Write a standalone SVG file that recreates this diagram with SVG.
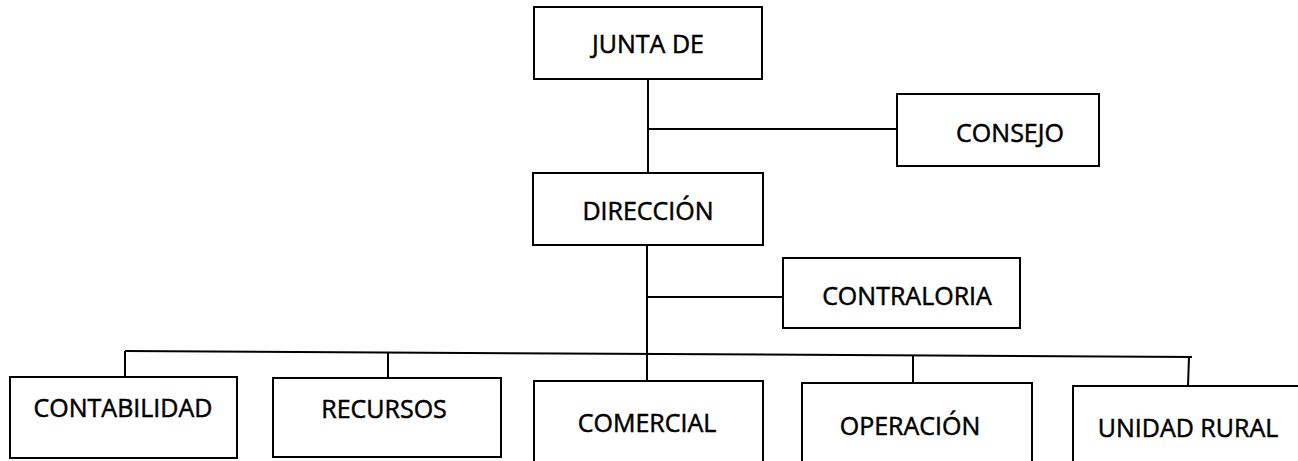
<svg xmlns="http://www.w3.org/2000/svg" width="1298" height="461" viewBox="0 0 1298 461">
<style>
.box{fill:#fff;stroke:#000;stroke-width:2}
.lbl{font-family:"Open Sans","Liberation Sans",sans-serif;font-size:25px;fill:#000;stroke:#000;stroke-width:0.5;text-anchor:middle}
.ln{stroke:#000;stroke-width:2;fill:none}
</style>
<rect width="1298" height="461" fill="#fff"/>
<g id="connectors">
<line class="ln" x1="648" y1="79" x2="648" y2="173"/>
<line class="ln" x1="648" y1="129" x2="897" y2="129"/>
<line class="ln" x1="647" y1="245" x2="647" y2="381"/>
<line class="ln" x1="647" y1="297" x2="783" y2="297"/>
<line class="ln" x1="125" y1="351" x2="1192" y2="357"/>
<line class="ln" x1="125" y1="351" x2="125" y2="377"/>
<line class="ln" x1="388" y1="352.5" x2="388" y2="378"/>
<line class="ln" x1="913" y1="355.5" x2="913" y2="383"/>
<line class="ln" x1="1189" y1="357" x2="1188" y2="386"/>
</g>
<g id="junta"><rect class="box" x="534" y="7" width="228" height="72"/><text class="lbl" x="648" y="53">JUNTA DE</text></g>
<g id="consejo"><rect class="box" x="897" y="94" width="202" height="72"/><text class="lbl" x="1010" y="142">CONSEJO</text></g>
<g id="direccion"><rect class="box" x="533" y="173" width="230" height="72"/><text class="lbl" x="648" y="220">DIRECCIÓN</text></g>
<g id="contraloria"><rect class="box" x="783" y="258" width="237" height="70"/><text class="lbl" x="907" y="305">CONTRALORIA</text></g>
<g id="contabilidad"><rect class="box" x="10" y="377" width="227" height="81"/><text class="lbl" x="123" y="417">CONTABILIDAD</text></g>
<g id="recursos"><rect class="box" x="273" y="378" width="228" height="79"/><text class="lbl" x="384" y="418">RECURSOS</text></g>
<g id="comercial"><rect class="box" x="534" y="381" width="229" height="86"/><text class="lbl" x="647" y="432">COMERCIAL</text></g>
<g id="operacion"><rect class="box" x="802" y="383" width="230" height="86"/><text class="lbl" x="910" y="435">OPERACIÓN</text></g>
<g id="unidad"><rect class="box" x="1073" y="386" width="235" height="86"/><text class="lbl" x="1188" y="437">UNIDAD RURAL</text></g>
</svg>
